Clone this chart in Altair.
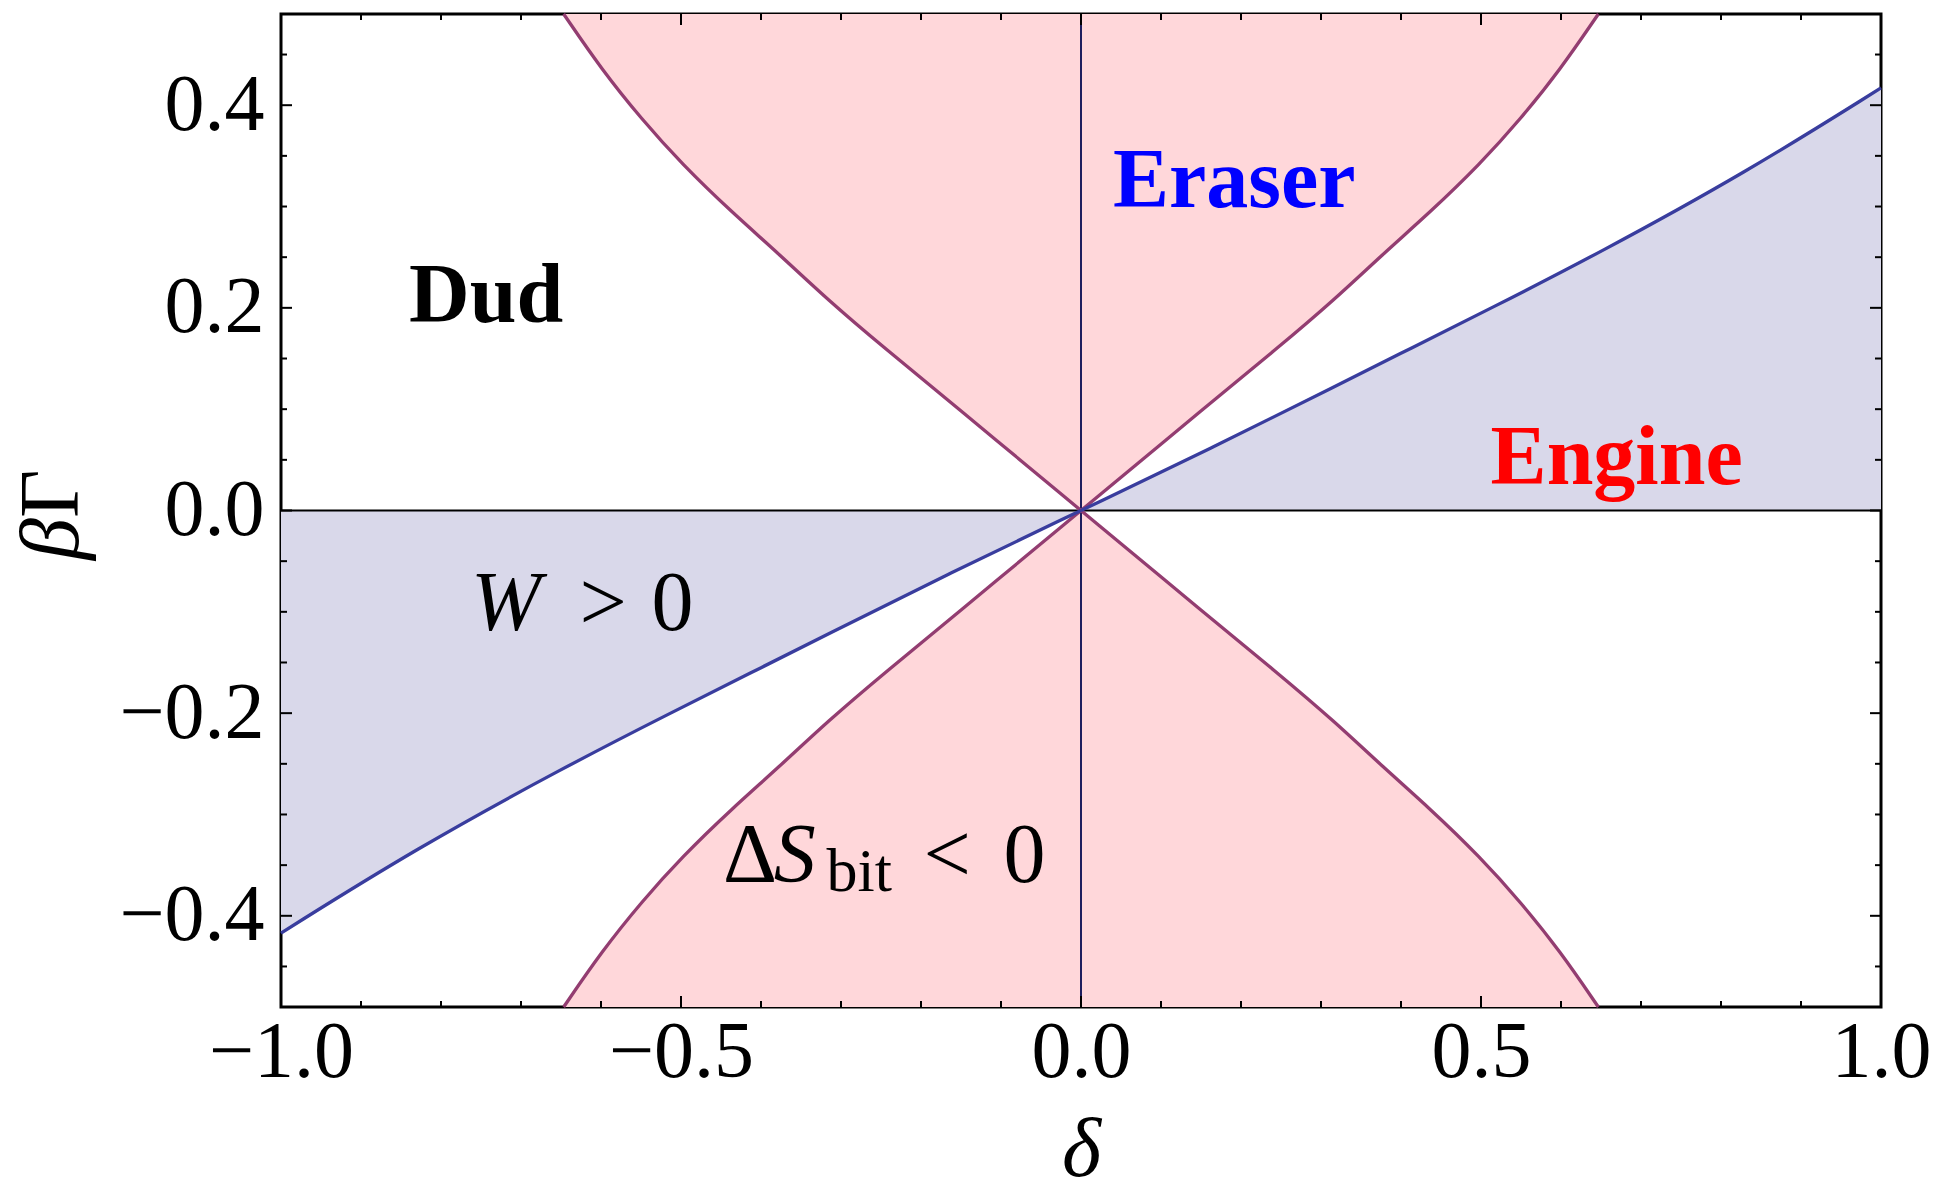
import altair as alt
import pandas as pd

# ---------------- data ----------------
# right half of the pink (Delta S_bit < 0) boundary, y >= 0 branch
pink_x = [0.0, 0.158, 0.2446, 0.3167, 0.378, 0.436, 0.499, 0.549, 0.599, 0.6467]
pink_y = [0.0, 0.1036, 0.1596, 0.208, 0.2536, 0.294, 0.342, 0.386, 0.435, 0.490]

# right half of the blue (W > 0) boundary
blue_x = [0.0, 0.1625, 0.325, 0.411, 0.511, 0.645, 0.832, 1.0]
blue_y = [0.0, 0.0612, 0.1253, 0.1596, 0.199, 0.253, 0.334, 0.417]

x_domain = [-1.0, 1.0]
y_domain = [-0.49, 0.49]

x_major = [-1.0, -0.5, 0.0, 0.5, 1.0]
x_minor = [-0.9, -0.8, -0.7, -0.6, -0.4, -0.3, -0.2, -0.1,
           0.1, 0.2, 0.3, 0.4, 0.6, 0.7, 0.8, 0.9]
y_major = [-0.4, -0.2, 0.0, 0.2, 0.4]
y_minor = [-0.45, -0.35, -0.3, -0.25, -0.15, -0.1, -0.05,
           0.05, 0.1, 0.15, 0.25, 0.3, 0.35, 0.45]

region_labels = ["Dud", "Eraser", "Engine"]
region_x = [-0.84, 0.040, 0.512]
region_y = [0.186, 0.300, 0.026]
region_colors = ["#000000", "#0000FF", "#FF0000"]

italic_txt = ["W", "S"]
italic_x = [-0.7625, -0.384]
italic_y = [-0.118, -0.367]

roman_txt = [">", "0", "\u0394", "<", "0"]
roman_x = [-0.627, -0.537, -0.4475, -0.197, -0.097]
roman_y = [-0.118, -0.118, -0.367, -0.367, -0.367]

sub_txt = ["bit"]
sub_x = [-0.318]
sub_y = [-0.376]

# ---------------- styling ----------------
W, H = 1600, 993
FONT = "Liberation Serif"
PINK_FILL = "#FFD7DA"
BLUE_FILL = "#D9D8EA"
PINK_LINE = "#933D71"
BLUE_LINE = "#393D9E"
NAVY = "#1E1E5E"
MAJ, MIN = 11, 6
CURVE = "basis"

# ---------------- build tables ----------------
rows = []
for part, sx, sy in (("UR", 1, 1), ("UL", -1, 1), ("LR", 1, -1), ("LL", -1, -1)):
    for xv, yv in zip(pink_x, pink_y):
        rows.append({"x": sx * xv, "y": sy * yv, "y2": sy * y_domain[1], "part": part})
pink_df = pd.DataFrame(rows)

brows = []
for part, s in (("R", 1), ("L", -1)):
    for xv, yv in zip(blue_x, blue_y):
        brows.append({"x": s * xv, "y": s * yv, "y2": 0.0, "part": part})
blue_df = pd.DataFrame(brows)

xscale = alt.Scale(domain=x_domain, nice=False, zero=False)
yscale = alt.Scale(domain=y_domain, nice=False, zero=False)

X = alt.X("x:Q", scale=xscale, axis=alt.Axis(
    values=x_major, format=".1f", title="\u03b4", labelFlush=False,
    labelOverlap=False, labelBaseline="alphabetic", labelPadding=69,
    tickSize=0, titleX=W / 2, titleY=168, titleAlign="center",
    titleBaseline="alphabetic"))
Y = alt.Y("y:Q", scale=yscale, axis=alt.Axis(
    values=y_major, format=".1f", title=None, labelFlush=False,
    labelOverlap=False, labelPadding=17, tickSize=0))
Y2 = alt.Y2("y2:Q")

pink_area = alt.Chart(pink_df).mark_area(
    color=PINK_FILL, opacity=1, interpolate=CURVE).encode(
    x=X, y=Y, y2=Y2, detail="part:N")
blue_area = alt.Chart(blue_df).mark_area(
    color=BLUE_FILL, opacity=1, interpolate=CURVE).encode(
    x=X, y=Y, y2=Y2, detail="part:N")

hline = alt.Chart(pd.DataFrame({"y": [0.0]})).mark_rule(
    color="black", strokeWidth=1.8).encode(y=Y)
vline = alt.Chart(pd.DataFrame({"x": [0.0]})).mark_rule(
    color=NAVY, strokeWidth=2).encode(x=X)

pink_line = alt.Chart(pink_df).mark_line(
    color=PINK_LINE, strokeWidth=3.3, interpolate=CURVE).encode(
    x=X, y=Y, detail="part:N")
blue_line = alt.Chart(blue_df).mark_line(
    color=BLUE_LINE, strokeWidth=3.3, interpolate=CURVE).encode(
    x=X, y=Y, detail="part:N")


def xticks(vals, length):
    d = pd.DataFrame({"x": vals})
    bottom = alt.Chart(d).mark_rule(color="black", strokeWidth=2).encode(
        x=X, y=alt.value(H), y2=alt.value(H - length))
    top = alt.Chart(d).mark_rule(color="black", strokeWidth=2).encode(
        x=X, y=alt.value(0), y2=alt.value(length))
    return [bottom, top]


def yticks(vals, length):
    d = pd.DataFrame({"y": vals})
    left = alt.Chart(d).mark_rule(color="black", strokeWidth=2).encode(
        y=Y, x=alt.value(0), x2=alt.value(length))
    right = alt.Chart(d).mark_rule(color="black", strokeWidth=2).encode(
        y=Y, x=alt.value(W), x2=alt.value(W - length))
    return [left, right]


ticks = xticks(x_major, MAJ) + xticks(x_minor, MIN) + yticks(y_major, MAJ) + yticks(y_minor, MIN)

reg_df = pd.DataFrame({"t": region_labels, "x": region_x, "y": region_y, "c": region_colors})
reg_text = alt.Chart(reg_df).mark_text(
    font=FONT, fontSize=84, fontWeight="bold", align="left", baseline="alphabetic"
).encode(x=X, y=Y, text="t:N", color=alt.Color("c:N", scale=None))

it_df = pd.DataFrame({"t": italic_txt, "x": italic_x, "y": italic_y})
it_text = alt.Chart(it_df).mark_text(
    font=FONT, fontSize=84, fontStyle="italic", align="left", baseline="alphabetic",
    color="black").encode(x=X, y=Y, text="t:N")

ro_df = pd.DataFrame({"t": roman_txt, "x": roman_x, "y": roman_y})
ro_text = alt.Chart(ro_df).mark_text(
    font=FONT, fontSize=84, align="left", baseline="alphabetic",
    color="black").encode(x=X, y=Y, text="t:N")

sub_df = pd.DataFrame({"t": sub_txt, "x": sub_x, "y": sub_y})
sub_text = alt.Chart(sub_df).mark_text(
    font=FONT, fontSize=62, align="left", baseline="alphabetic",
    color="black").encode(x=X, y=Y, text="t:N")

# y-axis title: italic beta, upright Gamma, rotated
ytitle_beta = alt.Chart(pd.DataFrame({"t": ["\u03b2"]})).mark_text(
    font=FONT, fontSize=84, fontStyle="italic", angle=270, align="left",
    baseline="alphabetic", color="black").encode(
    text="t:N", x=alt.value(-203), y=alt.value(546))
ytitle_gamma = alt.Chart(pd.DataFrame({"t": ["\u0393"]})).mark_text(
    font=FONT, fontSize=84, angle=270, align="left",
    baseline="alphabetic", color="black").encode(
    text="t:N", x=alt.value(-203), y=alt.value(504))

chart = alt.layer(
    pink_area, blue_area, hline, vline, pink_line, blue_line,
    *ticks, reg_text, it_text, ro_text, sub_text, ytitle_beta, ytitle_gamma
).properties(
    width=W, height=H,
    autosize=alt.AutoSizeParams(type="none"),
    padding={"left": 273, "top": 6, "right": 55, "bottom": 182},
    background="white",
).configure_view(
    stroke="black", strokeWidth=3
).configure_axis(
    grid=False, domain=False, ticks=False,
    labelFont=FONT, labelFontSize=80, labelColor="black",
    titleFont=FONT, titleFontSize=84, titleFontStyle="italic",
    titleFontWeight="normal", titleColor="black",
)

chart.save("out.html", embed_options={"renderer": "svg", "actions": False})
